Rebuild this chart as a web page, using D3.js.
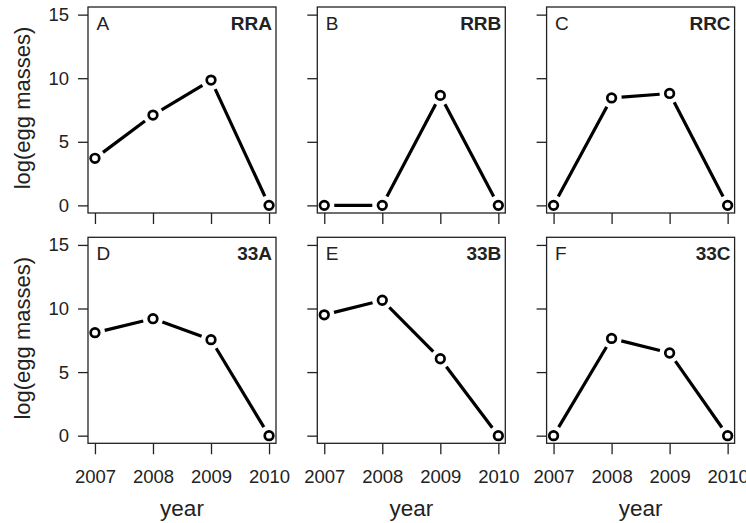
<!DOCTYPE html>
<html>
<head>
<meta charset="utf-8">
<script src="https://cdn.jsdelivr.net/npm/d3@7"></script>
<style>
  body { margin: 0; background: #fff; }
  svg { display: block; font-family: "Liberation Sans", Arial, sans-serif; }
  .axis path.domain { display: none; }
  .axis line { stroke: #222; stroke-width: 1.3; }
  .axis text { fill: #222; font-size: 18.5px; }
</style>
</head>
<body>
<div id="chart"></div>
<script>
// years on the x axis
var years = [2007, 2008, 2009, 2010];
var yTicks = [0, 5, 10, 15];

// one panel per site
var panelLetters = ["A", "B", "C", "D", "E", "F"];
var panelSites = ["RRA", "RRB", "RRC", "33A", "33B", "33C"];

// log(egg masses) per year
var valsRRA = [3.7, 7.1, 9.85, 0];
var valsRRB = [0, 0, 8.65, 0];
var valsRRC = [0, 8.45, 8.8, 0];
var vals33A = [8.1, 9.2, 7.55, 0];
var vals33B = [9.5, 10.65, 6.05, 0];
var vals33C = [0, 7.65, 6.5, 0];
var panelValues = [valsRRA, valsRRB, valsRRC, vals33A, vals33B, vals33C];

var W = 746, H = 523;
var left0 = 88, top0 = 7,
    pw = 188, ph = 206,
    colStep = 229.3, rowStep = 230.3;

var svg = d3.select("#chart").append("svg")
    .attr("width", W)
    .attr("height", H);

// R style 4% padding around the data range
var x = d3.scaleLinear().domain([2006.88, 2010.12]).range([0, pw]);
var y = d3.scaleLinear().domain([-0.6, 15.6]).range([ph, 0]);

var gap = 10; // lines stop short of the points (type = "b")

panelValues.forEach(function(vals, i) {
    var col = i % 3, row = Math.floor(i / 3);
    var g = svg.append("g")
        .attr("transform", "translate(" + (left0 + col * colStep) + "," + (top0 + row * rowStep) + ")");

    // y axis
    var ya = g.append("g")
        .attr("class", "axis")
        .call(d3.axisLeft(y).tickValues(yTicks).tickSize(10).tickPadding(9));
    if (col > 0) ya.selectAll("text").remove();

    // x axis
    var xa = g.append("g")
        .attr("class", "axis")
        .attr("transform", "translate(0," + ph + ")")
        .call(d3.axisBottom(x).tickValues(years).tickSize(11).tickFormat(d3.format("d")));
    if (row === 0) xa.selectAll("text").remove();
    else xa.selectAll("text").attr("y", 40).attr("dy", 0);

    // box
    g.append("rect")
        .attr("width", pw)
        .attr("height", ph)
        .attr("fill", "none")
        .attr("stroke", "#222")
        .attr("stroke-width", 1.3);

    // line segments with gaps
    var pts = vals.map(function(v, j) { return [x(years[j]), y(v)]; });
    var segs = d3.pairs(pts).map(function(p) {
        var dx = p[1][0] - p[0][0], dy = p[1][1] - p[0][1];
        var len = Math.sqrt(dx * dx + dy * dy);
        var ux = dx / len, uy = dy / len;
        return [p[0][0] + ux * gap, p[0][1] + uy * gap, p[1][0] - ux * gap, p[1][1] - uy * gap];
    });
    g.selectAll(".seg")
        .data(segs)
        .enter().append("line")
        .attr("class", "seg")
        .attr("x1", function(d) { return d[0]; })
        .attr("y1", function(d) { return d[1]; })
        .attr("x2", function(d) { return d[2]; })
        .attr("y2", function(d) { return d[3]; })
        .attr("stroke", "#000")
        .attr("stroke-width", 3.2);

    // points
    g.selectAll(".dot")
        .data(vals)
        .enter().append("circle")
        .attr("class", "dot")
        .attr("cx", function(d, j) { return x(years[j]); })
        .attr("cy", function(d) { return y(d); })
        .attr("r", 4.3)
        .attr("fill", "#fff")
        .attr("stroke", "#000")
        .attr("stroke-width", 2.7);

    // panel letter and site name
    g.append("text")
        .attr("x", 8.5)
        .attr("y", 23)
        .attr("font-size", "19px")
        .attr("fill", "#222")
        .text(panelLetters[i]);

    g.append("text")
        .attr("x", pw - 4)
        .attr("y", 23)
        .attr("text-anchor", "end")
        .attr("font-size", "19px")
        .attr("font-weight", "bold")
        .attr("fill", "#222")
        .text(panelSites[i]);

    // axis titles
    if (col === 0) {
        g.append("text")
            .attr("transform", "rotate(-90)")
            .attr("x", -ph / 2 + 2)
            .attr("y", -58)
            .attr("text-anchor", "middle")
            .attr("font-size", "22px")
            .attr("fill", "#222")
            .text("log(egg masses)");
    }
    if (row === 1) {
        g.append("text")
            .attr("x", pw / 2)
            .attr("y", ph + 73)
            .attr("text-anchor", "middle")
            .attr("font-size", "22.5px")
            .attr("fill", "#222")
            .text("year");
    }
});
</script>
</body>
</html>
